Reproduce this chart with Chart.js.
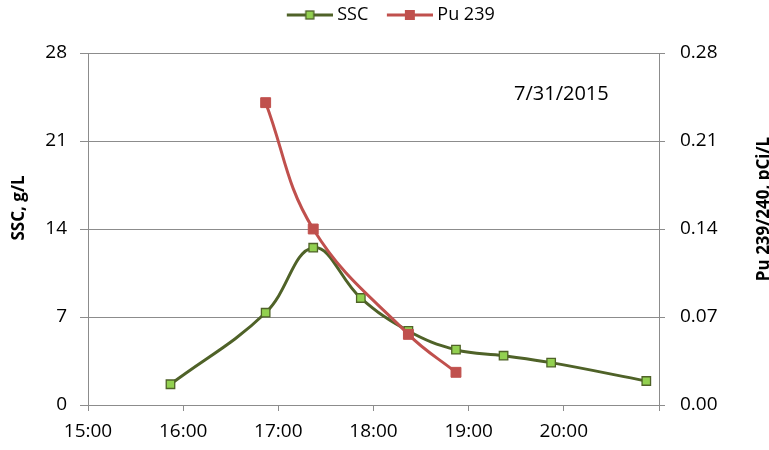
<!DOCTYPE html>
<html>
<head>
<meta charset="utf-8">
<script src="https://cdn.jsdelivr.net/npm/chart.js@4.4.1/dist/chart.umd.min.js"></script>
<style>
  html, body { margin: 0; padding: 0; background: #ffffff; }
  #wrap { width: 769px; height: 450px; position: relative; }
</style>
</head>
<body>
<div id="wrap"><canvas id="c" width="769" height="450"></canvas></div>
<script>
// ---- data ----
const sscTimes  = ['15:52', '16:52', '17:22', '17:52', '18:22', '18:52', '19:22', '19:52', '20:52'];
const sscValues = [1.65, 7.34, 12.51, 8.51, 5.89, 4.40, 3.92, 3.37, 1.91];
const puTimes   = ['16:52', '17:22', '18:22', '18:52'];
const puValues  = [0.2405, 0.140, 0.0562, 0.026];
const seriesNames = ['SSC', 'Pu 239'];
const xRangeHours = [15, 21];
const leftRange  = [0, 28];
const rightRange = [0, 0.28];
const leftTitle  = 'SSC, g/L';
const rightTitle = 'Pu 239/240, pCi/L';
const dateLabel  = '7/31/2015';

// ---- helpers ----
const toHours = s => { const [h, m] = s.split(':').map(Number); return h + m / 60; };
const pts = (ts, vs) => ts.map((t, i) => ({ x: toHours(t), y: vs[i] }));

const GREEN_LINE = '#4F6228', GREEN_FILL = '#92D050', RED = '#C0504D', GRID = '#8C8C8C';
const FONT = '"Open Sans", "Liberation Sans", sans-serif';

function legendIcon(lineColor, fill, stroke, side) {
  const c = document.createElement('canvas');
  c.width = 63; c.height = 14;
  const g = c.getContext('2d');
  g.strokeStyle = lineColor; g.lineWidth = 3;
  g.beginPath(); g.moveTo(17, 7); g.lineTo(63, 7); g.stroke();
  const cx = 40;
  g.fillStyle = fill; g.fillRect(cx - side / 2, 7 - side / 2, side, side);
  if (stroke) { g.strokeStyle = stroke; g.lineWidth = 1.3; g.strokeRect(cx - side / 2, 7 - side / 2, side, side); }
  return c;
}
const icons = [legendIcon(GREEN_LINE, GREEN_FILL, GREEN_LINE, 8), legendIcon(RED, RED, null, 10)];

Chart.defaults.font.family = FONT;
Chart.defaults.color = '#000000';

const extras = {
  id: 'extras',
  beforeInit(chart) {
    const lg = chart.legend;
    if (lg) {
      const orig = lg.fit;
      lg.fit = function () { orig.call(this); this.height = 53; };
    }
  },
  afterDraw(chart) {
    const ctx = chart.ctx;
    ctx.save();
    ctx.fillStyle = '#000';
    ctx.font = 'bold 17px ' + FONT;
    ctx.textAlign = 'center'; ctx.textBaseline = 'middle';
    ctx.save(); ctx.translate(19, 208); ctx.rotate(-Math.PI / 2); ctx.fillText(leftTitle, 0, 0); ctx.restore();
    ctx.save(); ctx.translate(764, 209); ctx.rotate(-Math.PI / 2); ctx.fillText(rightTitle, 0, 0); ctx.restore();
    ctx.font = '20px ' + FONT;
    ctx.textAlign = 'left'; ctx.textBaseline = 'alphabetic';
    ctx.fillText(dateLabel, 514, 100);
    ctx.restore();
  }
};

new Chart(document.getElementById('c'), {
  type: 'line',
  data: {
    datasets: [
      {
        label: seriesNames[0], data: pts(sscTimes, sscValues), yAxisID: 'y', order: 2,
        borderColor: GREEN_LINE, borderWidth: 3, tension: 0.4,
        pointStyle: 'rect', pointRadius: 6, pointHoverRadius: 6,
        pointBackgroundColor: GREEN_FILL, pointBorderColor: GREEN_LINE, pointBorderWidth: 1.3
      },
      {
        label: seriesNames[1], data: pts(puTimes, puValues), yAxisID: 'y1', order: 1,
        borderColor: RED, borderWidth: 3, tension: 0.4,
        pointStyle: 'rect', pointRadius: 7, pointHoverRadius: 7,
        pointBackgroundColor: RED, pointBorderColor: RED, pointBorderWidth: 1
      }
    ]
  },
  options: {
    responsive: false,
    animation: false,
    layout: { padding: 0 },
    plugins: {
      tooltip: { enabled: false },
      legend: {
        position: 'top',
        labels: {
          font: { size: 18, family: FONT },
          color: '#000',
          padding: 6,
          usePointStyle: true,
          pointStyleWidth: 54,
          generateLabels(chart) {
            return chart.data.datasets.map((ds, i) => ({
              text: ds.label, datasetIndex: i, pointStyle: icons[i],
              fillStyle: 'rgba(0,0,0,0)', strokeStyle: 'rgba(0,0,0,0)', lineWidth: 0,
              hidden: false, fontColor: '#000'
            }));
          }
        }
      }
    },
    scales: {
      x: {
        type: 'linear', min: xRangeHours[0], max: xRangeHours[1],
        afterFit(s) { s.height = 45; },
        ticks: {
          stepSize: 1, font: { size: 19 }, color: '#000', padding: 9, maxRotation: 0,
          callback: v => (Number.isInteger(v) && v < xRangeHours[1]) ? v + ':00' : ''
        },
        grid: { drawOnChartArea: false, drawTicks: true, tickLength: 6, color: GRID },
        border: { display: true, color: GRID, width: 1 }
      },
      y: {
        position: 'left', min: leftRange[0], max: leftRange[1],
        afterFit(s) { s.width = 88; },
        ticks: { stepSize: 7, font: { size: 19 }, color: '#000', padding: 13 },
        grid: { color: GRID, tickLength: 8, drawTicks: true },
        border: { display: true, color: GRID, width: 1 }
      },
      y1: {
        position: 'right', min: rightRange[0], max: rightRange[1],
        afterFit(s) { s.width = 110; },
        ticks: { stepSize: 0.07, font: { size: 19 }, color: '#000', padding: 15, callback: v => Number(v).toFixed(2) },
        grid: { drawOnChartArea: false, drawTicks: true, tickLength: 6, color: GRID },
        border: { display: true, color: GRID, width: 1 }
      }
    }
  },
  plugins: [extras]
});
</script>
</body>
</html>
